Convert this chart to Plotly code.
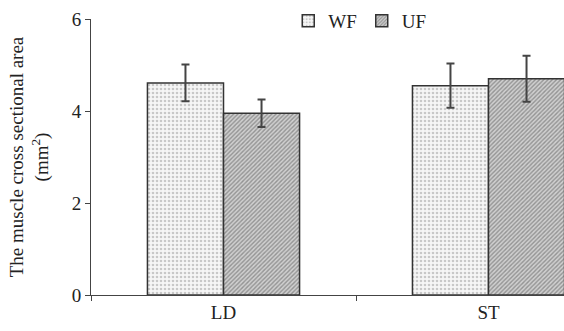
import plotly.graph_objects as go

categories = ["LD", "ST"]
wf_values = [4.61, 4.55]
wf_errors = [0.40, 0.48]
uf_values = [3.95, 4.70]
uf_errors = [0.30, 0.50]
y_ticks = [0, 2, 4, 6]

font_family = "Liberation Serif"
edge = "#333333"

fig = go.Figure()
fig.add_trace(go.Bar(
    name="WF", x=categories, y=wf_values,
    error_y=dict(type="data", array=wf_errors, color="#444444", thickness=2, width=4),
    marker=dict(color="white", line=dict(color=edge, width=1.5),
                pattern=dict(shape=".", fgcolor="#9a9a9a", bgcolor="#f6f6f6", size=4, solidity=0.35)),
))
fig.add_trace(go.Bar(
    name="UF", x=categories, y=uf_values,
    error_y=dict(type="data", array=uf_errors, color="#444444", thickness=2, width=4),
    marker=dict(color="white", line=dict(color=edge, width=1.5),
                pattern=dict(shape="/", fgcolor="#555555", bgcolor="#d0d0d0", size=3, solidity=0.45)),
))

fig.update_layout(
    width=564, height=331,
    margin=dict(l=91, r=0, t=19, b=36),
    paper_bgcolor="white", plot_bgcolor="white",
    barmode="group", bargap=0.426, bargroupgap=0,
    font=dict(family=font_family, size=19, color="#222222"),
    showlegend=True,
    legend=dict(orientation="h", x=0.417, xanchor="left", y=0.993, yanchor="middle",
                font=dict(family=font_family, size=19, color="#222222"),
                bgcolor="rgba(0,0,0,0)", itemwidth=30, tracegroupgap=0),
    xaxis=dict(type="category", range=[-0.5, -0.5 + 473 / 265], showline=True, linecolor="#444444",
               linewidth=1, ticks="outside", tickson="boundaries", ticklen=5, tickcolor="#444444",
               showgrid=False, tickfont=dict(family=font_family, size=19)),
    yaxis=dict(range=[0, 6], tickvals=y_ticks, showline=True, linecolor="#444444", linewidth=1,
               ticks="outside", ticklen=5, tickcolor="#444444", showgrid=False, zeroline=False,
               tickfont=dict(family=font_family, size=19),
               title=dict(text="The muscle cross sectional area<br>(mm<sup>2</sup>)",
                          font=dict(family=font_family, size=19), standoff=18)),
)

fig.write_html("out.html")
